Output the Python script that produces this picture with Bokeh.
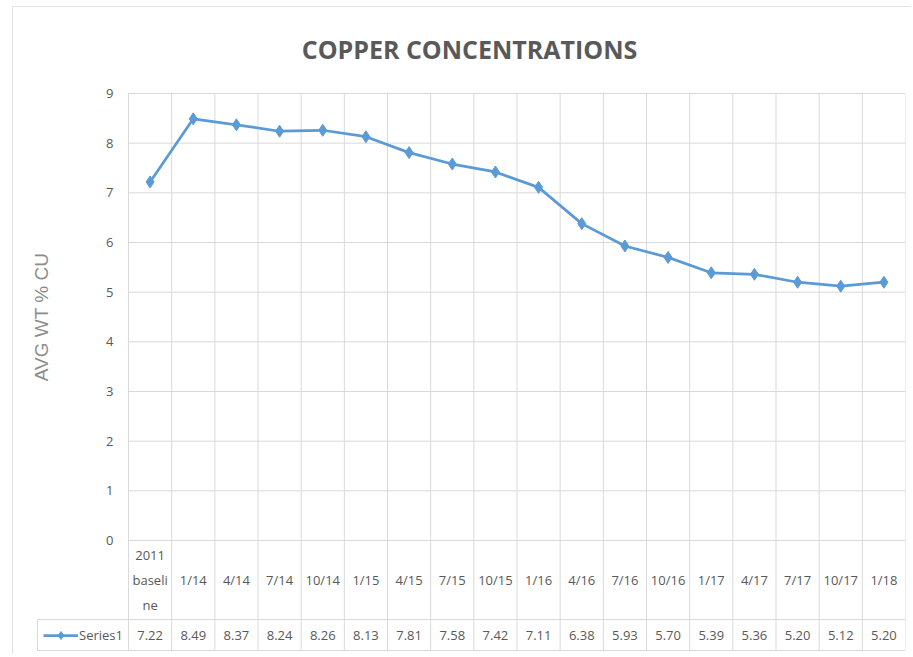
from bokeh.plotting import figure
from bokeh.models import Range1d, FixedTicker, Legend, LegendItem
from bokeh.embed import file_html
from bokeh.resources import INLINE
from bokeh.core.properties import value

# ---- data ----
categories = ["2011 baseline", "1/14", "4/14", "7/14", "10/14", "1/15", "4/15", "7/15",
              "10/15", "1/16", "4/16", "7/16", "10/16", "1/17", "4/17", "7/17", "10/17", "1/18"]
copper = [7.22, 8.49, 8.37, 8.24, 8.26, 8.13, 7.81, 7.58, 7.42, 7.11,
          6.38, 5.93, 5.70, 5.39, 5.36, 5.20, 5.12, 5.20]
y_ticks = [0, 1, 2, 3, 4, 5, 6, 7, 8, 9]
series_name = "Series1"
title_text = "COPPER CONCENTRATIONS"
y_label = "AVG WT % CU"

# ---- style / layout (page pixels) ----
BLUE = "#5b9bd5"
GRID = "#d9d9d9"
TXT = "#595959"
FONT = "Open Sans"

OX, OY = 13, 7                  # figure origin on the page (after margin + border)
W, H = 899, 648
FRAME_L, FRAME_R = 33, 905      # plot frame incl. data-table column (page x)
FRAME_T, FRAME_B = 80, 652      # page y
AXIS_X = 128                    # where x = 0 (value axis) sits
TOP_PX = 93                     # where y = ymax sits
Y0_PX = 540                     # where y = 0 sits
CELL_L = 37                     # left edge of the "Series1" table cell
ROW_TOP = 619                   # top of the series row
ROW_BOT = 650                   # bottom of the table

n = len(categories)
xs = [i + 0.5 for i in range(n)]
ymax = y_ticks[-1]
px_x = (FRAME_R - AXIS_X) / n
px_y = (Y0_PX - TOP_PX) / ymax


def px2x(px):
    return (px - AXIS_X) / px_x


def px2y(py):
    return (Y0_PX - py) / px_y


def wrap(s, w=6):
    out = []
    for word in s.split():
        out += [word[i:i + w] for i in range(0, len(word), w)]
    return "\n".join(out)


p = figure(width=W, height=H,
           x_range=Range1d(px2x(FRAME_L), n), y_range=Range1d(px2y(FRAME_B), px2y(FRAME_T)),
           output_backend="svg", toolbar_location=None, x_axis_location=None,
           min_border_left=FRAME_L - OX, min_border_right=OX + W - FRAME_R,
           min_border_top=FRAME_T - OY, min_border_bottom=OY + H - FRAME_B,
           margin=(6, 0, 0, 12),
           styles={"border-left": "1px solid #e3e3e3", "border-top": "1px solid #e3e3e3"})
p.outline_line_color = None

p.title.text = title_text
p.title.align = "center"
p.title.offset = -4
p.title.standoff = 29
p.title.text_font = FONT
p.title.text_font_size = "25px"
p.title.text_font_style = "bold"
p.title.text_color = TXT

# value axis drawn at x = 0
tick = FixedTicker(ticks=y_ticks)
p.yaxis.ticker = tick
p.yaxis.fixed_location = 0
p.yaxis.bounds = (y_ticks[0], y_ticks[-1])
p.yaxis.axis_line_color = None
p.yaxis.major_tick_line_color = None
p.yaxis.minor_tick_line_color = None
p.yaxis.major_label_standoff = 9
p.yaxis.major_label_text_font = FONT
p.yaxis.major_label_text_font_size = "13px"
p.yaxis.major_label_text_color = TXT
p.yaxis.axis_label = y_label
p.yaxis.axis_label_text_font = "Liberation Sans"
p.yaxis.axis_label_text_font_size = "19px"
p.yaxis.axis_label_text_font_style = "normal"
p.yaxis.axis_label_text_color = "#8c8c8c"
p.yaxis.axis_label_standoff = 51

p.ygrid.visible = False
p.xgrid.visible = False

# gridlines: horizontal (value) and vertical (category boundaries, through the table)
yb = px2y(ROW_BOT)
yr = px2y(ROW_TOP)
bounds = list(range(n + 1))
p.segment(x0=[0] * len(y_ticks), y0=y_ticks, x1=[n] * len(y_ticks), y1=y_ticks,
          line_color=GRID, line_width=1)
p.segment(x0=bounds, y0=[yb] * len(bounds), x1=bounds, y1=[ymax] * len(bounds),
          line_color=GRID, line_width=1)

# data table borders (series row + left cell)
xc = px2x(CELL_L)
p.segment(x0=[xc, xc, xc], y0=[yr, yb, yb], x1=[n, n, xc], y1=[yr, yb, yr],
          line_color=GRID, line_width=1)

# series
lr = p.line(xs, copper, line_color=BLUE, line_width=2.75)
sr = p.scatter(xs, copper, marker="diamond", size=12, fill_color=BLUE, line_color=BLUE)

# data table texts
p.text(x=xs, y=[px2y((Y0_PX + ROW_TOP) / 2)] * n, text=[wrap(c) for c in categories],
       text_align="center", text_baseline="middle", text_font=value(FONT),
       text_font_size="13px", text_color=TXT, text_line_height=1.4)
p.text(x=xs, y=[px2y((ROW_TOP + ROW_BOT) / 2)] * n, text=[f"{v:.2f}" for v in copper],
       text_align="center", text_baseline="middle", text_font=value(FONT),
       text_font_size="13px", text_color=TXT)

# legend key inside the table's first cell
leg = Legend(items=[LegendItem(label=series_name, renderers=[lr, sr])],
             location=(43 - FRAME_L, FRAME_B - (ROW_TOP + ROW_BOT) / 2 - 10),
             glyph_width=35, glyph_height=20, label_standoff=1,
             padding=0, margin=0, border_line_color=None, background_fill_alpha=0,
             label_text_font=FONT, label_text_font_size="13px", label_text_color=TXT,
             label_height=20, spacing=0)
p.add_layout(leg)

open("out.html", "w").write(file_html(p, INLINE))
